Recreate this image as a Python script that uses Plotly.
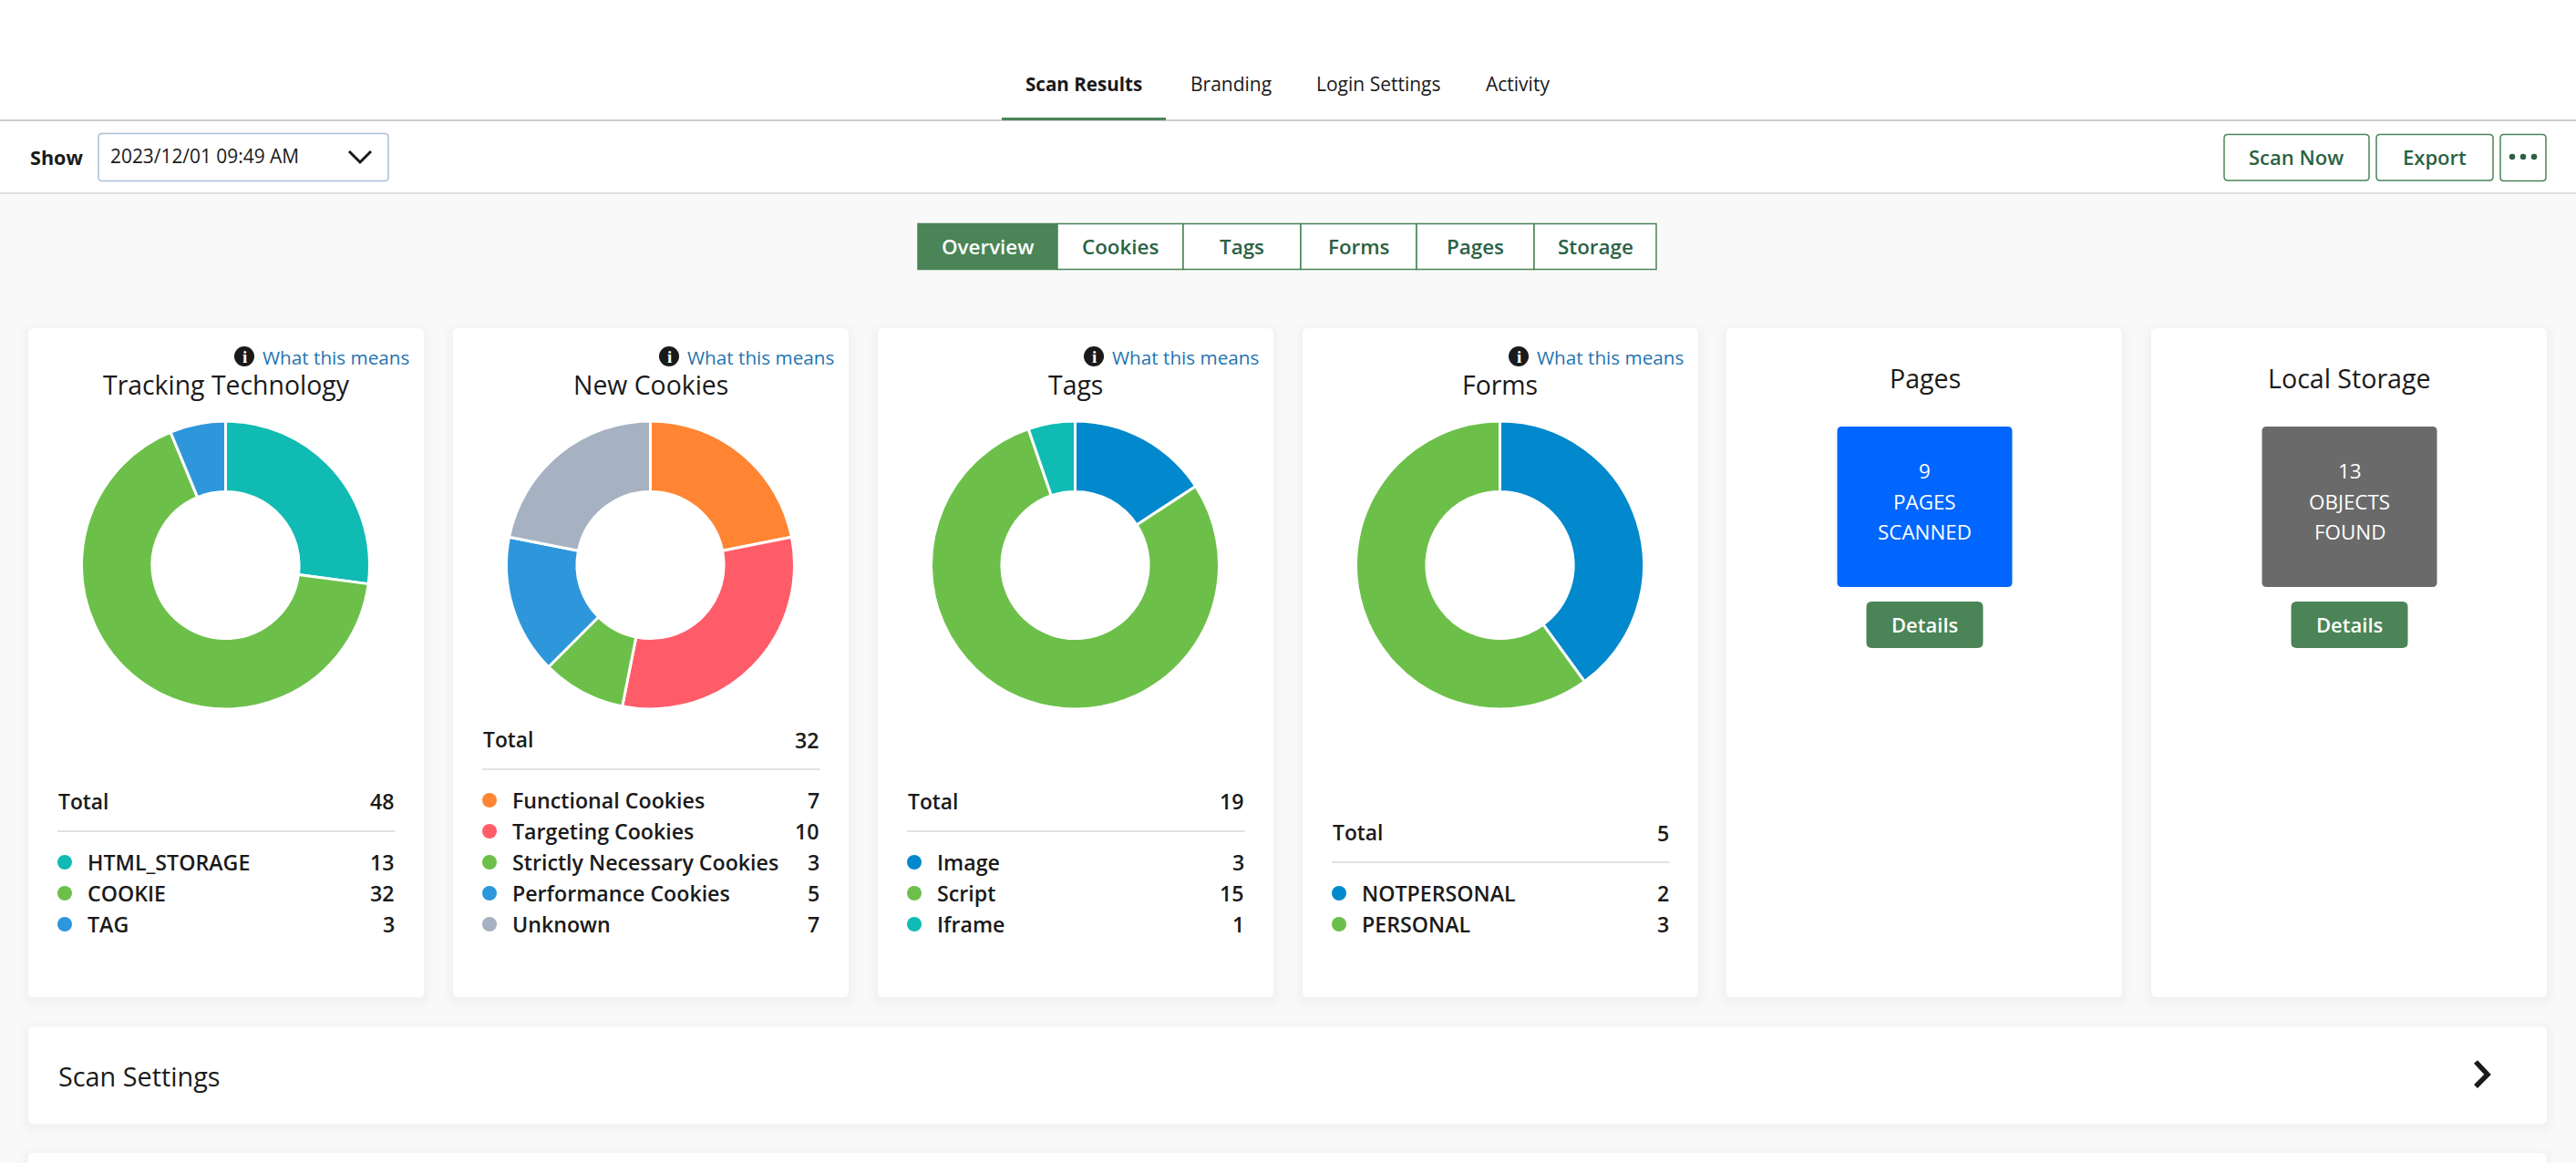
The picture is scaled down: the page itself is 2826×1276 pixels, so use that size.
import plotly.graph_objects as go

W = 2826
H = 1276
FONT = "Open Sans"
GREEN = "#4a8457"
GREEN_TEXT = "#2b6242"
DARK = "#1a1a1a"

# page texts
nav_tabs = ["Scan Results", "Branding", "Login Settings", "Activity"]
nav_centers = [1189, 1350, 1512, 1665]
view_tabs = ["Overview", "Cookies", "Tags", "Forms", "Pages", "Storage"]
view_edges = [1007, 1160, 1298, 1427, 1554, 1683, 1817]
scan_date = "2023/12/01 09:49 AM"

# donut cards
tracking_labels = ["HTML_STORAGE", "COOKIE", "TAG"]
tracking_values = [13, 32, 3]
tracking_colors = ["#10bbb3", "#6cc04a", "#2e97db"]

cookie_labels = ["Functional Cookies", "Targeting Cookies", "Strictly Necessary Cookies", "Performance Cookies", "Unknown"]
cookie_values = [7, 10, 3, 5, 7]
cookie_colors = ["#ff8533", "#ff5c69", "#6cc04a", "#2e97db", "#a6b1c2"]

tag_labels = ["Image", "Script", "Iframe"]
tag_values = [3, 15, 1]
tag_colors = ["#0288cc", "#6cc04a", "#10bbb3"]

form_labels = ["NOTPERSONAL", "PERSONAL"]
form_values = [2, 3]
form_colors = ["#0288cc", "#6cc04a"]

donut_titles = ["Tracking Technology", "New Cookies", "Tags", "Forms"]
donut_labels = [tracking_labels, cookie_labels, tag_labels, form_labels]
donut_values = [tracking_values, cookie_values, tag_values, form_values]
donut_colors = [tracking_colors, cookie_colors, tag_colors, form_colors]
donut_totals = [48, 32, 19, 5]

# count cards
count_titles = ["Pages", "Local Storage"]
count_lines = [["9", "PAGES", "SCANNED"], ["13", "OBJECTS", "FOUND"]]
count_colors = ["#0066ff", "#6a6a6a"]

card_lefts = [31, 497, 963, 1429, 1894, 2360]
CARD_W = 434
CARD_TOP = 360
CARD_BOTTOM = 1094
DONUT_Y = 620
DONUT_R = 158
ROW_H = 34
LAST_ROW_Y = 1014

fig = go.Figure()
shapes = []


def rrect(x0, y0, x1, y1, r=4):
    # rounded rectangle path in page pixels
    def p(x, y):
        return f"{x / W:.6f},{1 - y / H:.6f}"
    return (f"M{p(x0 + r, y0)} L{p(x1 - r, y0)} Q{p(x1, y0)} {p(x1, y0 + r)} "
            f"L{p(x1, y1 - r)} Q{p(x1, y1)} {p(x1 - r, y1)} "
            f"L{p(x0 + r, y1)} Q{p(x0, y1)} {p(x0, y1 - r)} "
            f"L{p(x0, y0 + r)} Q{p(x0, y0)} {p(x0 + r, y0)} Z")


def box(x0, y0, x1, y1, fill="rgba(0,0,0,0)", line=None, lw=0, r=0):
    shapes.append(dict(type="path", path=rrect(x0, y0, x1, y1, r), xref="paper", yref="paper",
                       fillcolor=fill, line=dict(color=line or "rgba(0,0,0,0)", width=lw), layer="below"))


def panel(x0, y0, x1, y1):
    # soft drop shadow then the white card
    for spread in [9, 6, 3]:
        box(x0 - spread, y0 - spread + 3, x1 + spread, y1 + spread + 3, fill="rgba(0,0,0,0.007)", r=6 + spread)
    box(x0, y0, x1, y1, fill="#ffffff", r=6)


def hline(y, x0, x1, color, lw=2):
    shapes.append(dict(type="line", x0=x0 / W, x1=x1 / W, y0=1 - y / H, y1=1 - y / H, xref="paper", yref="paper",
                       line=dict(color=color, width=lw), layer="below"))


def dot(cx, cy, d, color):
    shapes.append(dict(type="circle", x0=(cx - d / 2) / W, x1=(cx + d / 2) / W, y0=1 - (cy + d / 2) / H,
                       y1=1 - (cy - d / 2) / H, xref="paper", yref="paper", fillcolor=color, line_width=0, layer="below"))


def polyline(points, color, lw):
    path = "M" + " L".join(f"{x / W:.6f},{1 - y / H:.6f}" for x, y in points)
    shapes.append(dict(type="path", path=path, xref="paper", yref="paper", line=dict(color=color, width=lw), layer="below"))


def label(x, y, text, size=23.2, color=DARK, anchor="center", weight=400, family=FONT):
    fig.add_annotation(x=x / W, y=1 - y / H, xref="paper", yref="paper", text=text, showarrow=False,
                       xanchor=anchor, yanchor="middle", borderpad=0,
                       font=dict(family=family, size=size, color=color, weight=weight))


# page background
box(0, 0, W, 212, fill="#ffffff")
box(0, 212, W, H, fill="#f9f9f9")
hline(132, 0, W, "#cccccc")
hline(212, 0, W, "#e0e0e0")

# top tabs
box(1099, 129, 1279, 132, fill=GREEN)
for name, cx in zip(nav_tabs, nav_centers):
    label(cx, 92, name, size=20.6 if name == "Scan Results" else 21, weight=700 if name == "Scan Results" else 400)

# toolbar
label(31.5, 172.5, "Show", size=21.6, weight=700, anchor="left")
box(108, 146.5, 426, 198.5, fill="#ffffff", line="#a9bfd6", lw=1.5, r=4)
label(119.5, 171, scan_date, size=20.9, anchor="left")
polyline([(383, 166), (395, 178), (407, 166)], DARK, 3)

box(2440, 147.5, 2599, 198, fill="#ffffff", line=GREEN, lw=1.5, r=4)
label(2519, 172, "Scan Now", size=22, color=GREEN_TEXT, weight=600)
box(2607, 147.5, 2735, 198, fill="#ffffff", line=GREEN, lw=1.5, r=4)
label(2671, 172, "Export", size=22, color=GREEN_TEXT, weight=600)
box(2743, 147.5, 2793, 198.5, fill="#ffffff", line=GREEN, lw=1.5, r=4)
for cx in [2756, 2768, 2780]:
    dot(cx, 172, 6.5, GREEN_TEXT)

# view switcher
for i, name in enumerate(view_tabs):
    x0, x1 = view_edges[i], view_edges[i + 1]
    active = i == 0
    box(x0, 245.5, x1, 295.5, fill=GREEN if active else "#ffffff", line=GREEN, lw=1.5)
    label((x0 + x1) / 2, 270, name, size=22.4, color="#ffffff" if active else GREEN_TEXT, weight=600)

# donut cards
for i, title in enumerate(donut_titles):
    left = card_lefts[i]
    cx = left + CARD_W / 2
    panel(left, CARD_TOP, left + CARD_W, CARD_BOTTOM)

    fig.add_trace(go.Pie(
        labels=donut_labels[i],
        values=donut_values[i],
        marker=dict(colors=donut_colors[i], line=dict(color="#ffffff", width=3)),
        hole=0.51,
        sort=False,
        direction="clockwise",
        rotation=0,
        textinfo="none",
        showlegend=False,
        domain=dict(x=[(cx - 0.5 - DONUT_R) / W, (cx - 0.5 + DONUT_R) / W],
                    y=[1 - (DONUT_Y + DONUT_R) / H, 1 - (DONUT_Y - DONUT_R) / H]),
    ))

    dot(left + 237, 391, 22, DARK)
    label(left + 237, 391, "i", size=19, color="#ffffff", weight=700, family="Liberation Serif")
    label(left + 419, 391.5, "What this means", size=20.7, color="#1f74b0", anchor="right")
    label(cx, 421.5, title, size=28.4)

    n = len(donut_labels[i])
    first_row = LAST_ROW_Y - ROW_H * (n - 1)
    rule_y = first_row - ROW_H
    total_y = rule_y - 32.5
    x0, x1 = left + 32, left + 402.5
    label(x0, total_y, "Total", size=22.8, weight=600, anchor="left")
    label(x1, total_y, str(donut_totals[i]), weight=600, anchor="right")
    hline(rule_y, x0, x1, "#e2e2e2")
    for j in range(n):
        y = first_row + j * ROW_H
        dot(x0 + 8, y, 16, donut_colors[i][j])
        label(x0 + 32, y - 0.5, donut_labels[i][j], weight=600, anchor="left")
        label(x1, y - 0.5, str(donut_values[i][j]), weight=600, anchor="right")

# count cards
for i, title in enumerate(count_titles):
    left = card_lefts[4 + i]
    cx = left + CARD_W / 2 + 0.5
    panel(left, CARD_TOP, left + CARD_W, CARD_BOTTOM)
    label(cx, 415, title, size=28.6)
    box(cx - 96, 468, cx + 96, 644, fill=count_colors[i], r=5)
    for j, line in enumerate(count_lines[i]):
        label(cx, 516.5 + j * 33.5, line, size=22.4, color="#ffffff")
    box(cx - 64, 660, cx + 64, 711, fill=GREEN, r=6)
    label(cx, 684.5, "Details", size=22, color="#ffffff", weight=600)

# collapsed sections
panel(31, 1126, 2794, 1233)
label(63, 1180.5, "Scan Settings", size=28.8, anchor="left")
polyline([(2716, 1165), (2729, 1179), (2716, 1192)], DARK, 5.5)
panel(31, 1265, 2794, 1400)

fig.update_layout(
    width=W,
    height=H,
    margin=dict(l=0, r=0, t=0, b=0),
    paper_bgcolor="#f9f9f9",
    font=dict(family=FONT),
    shapes=shapes,
)

fig.write_html("out.html", config={"displayModeBar": False},
               post_script="document.body.style.margin='0';document.documentElement.style.overflow='hidden';")
